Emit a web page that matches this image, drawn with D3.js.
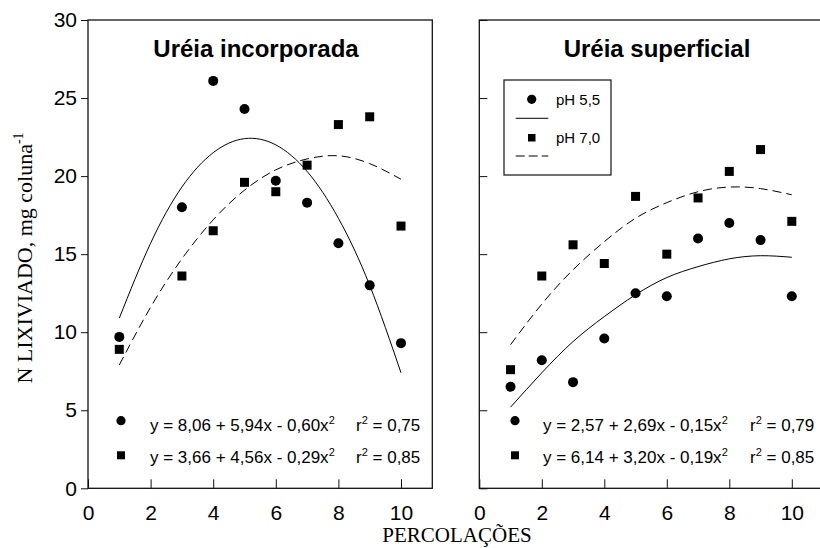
<!DOCTYPE html>
<html>
<head>
<meta charset="utf-8">
<script src="https://cdn.jsdelivr.net/npm/d3@7"></script>
<style>
  body { margin: 0; background: #fff; }
  svg { display: block; }
  .tick text { font-family: "Liberation Sans", Arial, sans-serif; font-size: 21px; fill: #000; }
  .tick line { stroke: #111; stroke-width: 1; }
</style>
</head>
<body>
<div id="chart"></div>
<script>
// percolation numbers and measured N leached (mg per column)
const percIncorp = [1, 3, 4, 5, 6, 7, 8, 9, 10];
const incorpPH55 = [9.7, 18.0, 26.1, 24.3, 19.7, 18.3, 15.7, 13.0, 9.3];
const incorpPH70 = [8.9, 13.6, 16.5, 19.6, 19.0, 20.7, 23.3, 23.8, 16.8];

const percSuperf = [1, 2, 3, 4, 5, 6, 7, 8, 9, 10];
const superfPH55 = [6.5, 8.2, 6.8, 9.6, 12.5, 12.3, 16.0, 17.0, 15.9, 12.3];
const superfPH70 = [7.6, 13.6, 15.6, 14.4, 18.7, 15.0, 18.6, 20.3, 21.7, 17.1];

// fitted curves as drawn in the figure, read at each percolation
const fitX = [1, 2, 3, 4, 5, 6, 7, 8, 9, 10];
const incorpFit55 = [10.9, 15.7, 19.3, 21.5, 22.4, 22.0, 20.3, 17.3, 13.0, 7.4];
const incorpFit70 = [7.9, 11.6, 14.7, 17.2, 19.1, 20.4, 21.1, 21.3, 20.8, 19.8];
const superfFit55 = [5.2, 7.4, 9.4, 11.0, 12.4, 13.5, 14.2, 14.7, 14.9, 14.8];
const superfFit70 = [9.2, 11.8, 14.0, 15.8, 17.3, 18.3, 19.0, 19.3, 19.2, 18.8];

const xTicks = [0, 2, 4, 6, 8, 10];
const yTicks = [0, 5, 10, 15, 20, 25, 30];

const incorpEq = ["y = 8,06 + 5,94x - 0,60x", "y = 3,66 + 4,56x - 0,29x"];
const incorpR2 = ["0,75", "0,85"];
const superfEq = ["y = 2,57 + 2,69x - 0,15x", "y = 6,14 + 3,20x - 0,19x"];
const superfR2 = ["0,79", "0,85"];

const svgWidth = 820;
const svgHeight = 548;
const plotTop = 20, plotBottom = 488.3;
const sans = '"Liberation Sans", Arial, sans-serif';
const serif = '"Liberation Serif", "Times New Roman", serif';

const svg = d3.select("#chart")
    .append("svg")
    .attr("width", svgWidth)
    .attr("height", svgHeight);

const y = d3.scaleLinear().domain([0, 30]).range([plotBottom, plotTop]);

function drawPanel(opts) {
    const x = d3.scaleLinear().domain([0, 11]).range([opts.left, opts.left + 11 * opts.unit]);
    const g = svg.append("g");

    // frame
    g.append("rect")
        .attr("x", x(0)).attr("y", y(30))
        .attr("width", x(11) - x(0)).attr("height", y(0) - y(30))
        .attr("fill", "none").attr("stroke", "#111").attr("stroke-width", 1.3);

    // X axis, ticks pointing inward
    g.append("g")
        .attr("transform", `translate(0,${y(0)})`)
        .call(d3.axisBottom(x).tickValues(xTicks).tickSizeInner(-9).tickSizeOuter(0).tickPadding(17))
        .call(a => a.select(".domain").remove());

    // Y axis
    const yAxis = d3.axisLeft(y).tickValues(yTicks).tickSizeOuter(0);
    if (opts.yLabels) {
        yAxis.tickSizeInner(7).tickPadding(4);
    } else {
        yAxis.tickSizeInner(-8).tickFormat("");
    }
    g.append("g")
        .attr("transform", `translate(${x(0)},0)`)
        .call(yAxis)
        .call(a => a.select(".domain").remove());

    // title
    g.append("text")
        .attr("x", opts.titleX).attr("y", 57)
        .attr("text-anchor", "middle")
        .style("font-family", sans).style("font-size", "24px").style("font-weight", "bold")
        .text(opts.title);

    // fitted curves
    const line = d3.line()
        .x((d, i) => x(fitX[i]))
        .y(d => y(d))
        .curve(d3.curveNatural);
    g.append("path").datum(opts.fit55)
        .attr("d", line).attr("fill", "none").attr("stroke", "#000").attr("stroke-width", 1);
    g.append("path").datum(opts.fit70)
        .attr("d", line).attr("fill", "none").attr("stroke", "#000").attr("stroke-width", 1)
        .attr("stroke-dasharray", "9,5");

    // points
    g.selectAll(".c55").data(opts.ph55).join("circle")
        .attr("cx", (d, i) => x(opts.perc[i])).attr("cy", d => y(d)).attr("r", 5).attr("fill", "#000");
    g.selectAll(".s70").data(opts.ph70).join("rect")
        .attr("x", (d, i) => x(opts.perc[i]) - 4.5).attr("y", d => y(d) - 4.5)
        .attr("width", 9).attr("height", 9).attr("fill", "#000");

    // regression equations
    const rows = [431, 463];
    const markY = [420.7, 455.3];
    g.append("circle").attr("cx", opts.markX).attr("cy", markY[0]).attr("r", 4.6).attr("fill", "#000");
    g.append("rect").attr("x", opts.markX - 4).attr("y", markY[1] - 4)
        .attr("width", 8).attr("height", 8).attr("fill", "#000");
    opts.eq.forEach((eq, i) => {
        const t = g.append("text")
            .attr("x", opts.eqX).attr("y", rows[i])
            .style("font-family", sans).style("font-size", "17px");
        t.append("tspan").text(eq);
        t.append("tspan").attr("dy", -7).style("font-size", "11px").text("2");
        const r = g.append("text")
            .attr("x", opts.r2X).attr("y", rows[i])
            .style("font-family", sans).style("font-size", "17px");
        r.append("tspan").text("r");
        r.append("tspan").attr("dy", -7).style("font-size", "11px").text("2");
        r.append("tspan").attr("dy", 7).text(" = " + opts.r2[i]);
    });
    return x;
}

drawPanel({
    left: 88, unit: 31.3, yLabels: true,
    title: "Uréia incorporada", titleX: 256,
    perc: percIncorp, ph55: incorpPH55, ph70: incorpPH70,
    fit55: incorpFit55, fit70: incorpFit70,
    eq: incorpEq, r2: incorpR2, markX: 121, eqX: 150, r2X: 356
});

drawPanel({
    left: 479.3, unit: 31.25, yLabels: false,
    title: "Uréia superficial", titleX: 657,
    perc: percSuperf, ph55: superfPH55, ph70: superfPH70,
    fit55: superfFit55, fit70: superfFit70,
    eq: superfEq, r2: superfR2, markX: 515, eqX: 543, r2X: 750
});

// legend (right panel)
const legend = svg.append("g");
legend.append("rect")
    .attr("x", 504).attr("y", 80).attr("width", 107).attr("height", 95)
    .attr("fill", "#fff").attr("stroke", "#111").attr("stroke-width", 1.2);
legend.append("circle").attr("cx", 531.7).attr("cy", 99.3).attr("r", 4.6).attr("fill", "#000");
legend.append("rect").attr("x", 528).attr("y", 134).attr("width", 7.5).attr("height", 7.5).attr("fill", "#000");
legend.append("line").attr("x1", 515.7).attr("x2", 548.3).attr("y1", 118.3).attr("y2", 118.3)
    .attr("stroke", "#000").attr("stroke-width", 1);
legend.append("line").attr("x1", 515.7).attr("x2", 548.3).attr("y1", 156).attr("y2", 156)
    .attr("stroke", "#000").attr("stroke-width", 1).attr("stroke-dasharray", "9,4");
legend.selectAll(".lt").data(["pH 5,5", "pH 7,0"]).join("text")
    .attr("x", 556).attr("y", (d, i) => i === 0 ? 104.5 : 142.5)
    .style("font-family", sans).style("font-size", "15px")
    .text(d => d);

// Y axis label
const yl = svg.append("text")
    .attr("transform", "translate(32,258) rotate(-90)")
    .attr("text-anchor", "middle")
    .style("font-family", serif).style("font-size", "22px");
yl.append("tspan").text("N LIXIVIADO, mg coluna");
yl.append("tspan").attr("dy", -9).style("font-size", "14px").text("-1");

// X axis label
svg.append("text")
    .attr("x", 457).attr("y", 542)
    .attr("text-anchor", "middle")
    .style("font-family", serif).style("font-size", "21px")
    .text("PERCOLAÇÕES");
</script>
</body>
</html>
